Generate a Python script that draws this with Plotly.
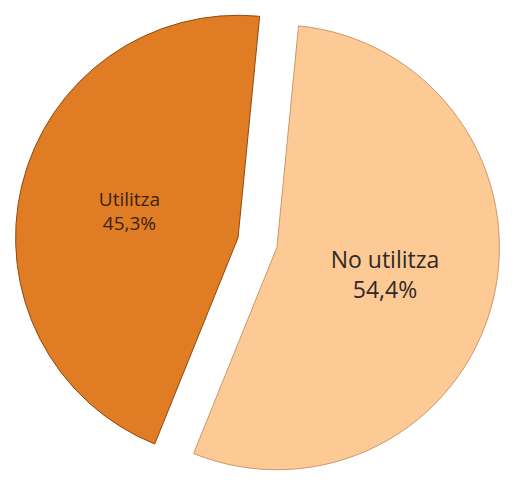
import plotly.graph_objects as go

# Ús: percentatge de persones que utilitzen / no utilitzen
labels = ["Utilitza", "No utilitza"]
values = [45.3, 54.4]
colors = ["#E07C24", "#FDC995"]
edge_colors = ["#8F4A12", "#C99A6A"]

pct_text = [f"{v:.1f}%".replace(".", ",") for v in values]

fig = go.Figure(
    go.Pie(
        labels=labels,
        values=values,
        customdata=pct_text,
        texttemplate="%{label}<br>%{customdata}",
        textposition="inside",
        insidetextorientation="horizontal",
        insidetextfont=dict(family="Open Sans, Liberation Sans, sans-serif",
                            size=[19, 23], color=["#3A2410", "#2E2A26"]),
        marker=dict(colors=colors, line=dict(color=edge_colors, width=1)),
        sort=False,
        direction="counterclockwise",
        rotation=-158,
        pull=[0.09, 0.09],
        hoverinfo="label+percent",
        showlegend=False,
    )
)

fig.update_layout(
    width=515,
    height=485,
    margin=dict(l=0, r=0, t=0, b=0),
    paper_bgcolor="white",
    plot_bgcolor="white",
)

fig.write_html("out.html")
